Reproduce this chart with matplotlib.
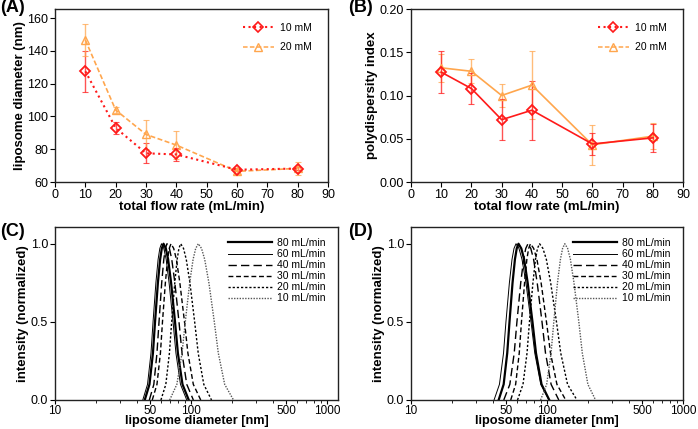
import matplotlib
matplotlib.use("Agg")
import matplotlib.pyplot as plt
from matplotlib.lines import Line2D
from matplotlib.ticker import FixedLocator, NullFormatter

plt.rcParams['font.family'] = ['Liberation Sans', 'DejaVu Sans']

# ---------------- data ----------------
flow = [10, 20, 30, 40, 60, 80]

size_10mM = [127.5, 93.0, 77.5, 76.8, 67.5, 68.2]
size_10mM_err = [12.5, 3.5, 6.0, 4.0, 1.0, 1.0]
size_20mM = [146.6, 103.9, 89.0, 82.5, 66.5, 68.3]
size_20mM_err = [10.0, 2.0, 8.7, 8.5, 1.5, 4.0]

pdi_10mM = [0.127, 0.108, 0.072, 0.083, 0.044, 0.051]
pdi_10mM_err = [0.024, 0.018, 0.024, 0.034, 0.013, 0.016]
pdi_20mM = [0.132, 0.128, 0.100, 0.112, 0.043, 0.053]
pdi_20mM_err = [0.016, 0.014, 0.013, 0.039, 0.023, 0.015]

dist_labels = ['80 mL/min', '60 mL/min', '40 mL/min', '30 mL/min', '20 mL/min', '10 mL/min']
dist_levels = [0, 0.1, 0.3, 0.5, 0.75, 0.9, 0.97, 1.0, 0.97, 0.9, 0.75, 0.5, 0.3, 0.1, 0]

# panel C (10 mM) diameters (nm) at dist_levels
c_80 = [45.7, 49.5, 52.5, 54.4, 57.1, 59.3, 61.0, 62.8, 65.3, 67.9, 71.4, 76.3, 80.1, 86.6, 96.3]
c_60 = [44.2, 47.9, 50.8, 52.6, 55.2, 57.3, 59.0, 60.7, 63.1, 65.7, 69.0, 73.8, 77.5, 83.7, 93.1]
c_40 = [49.4, 53.3, 56.2, 58.2, 60.9, 63.1, 64.8, 66.6, 69.4, 72.2, 76.1, 81.6, 85.9, 93.1, 104.1]
c_30 = [51.9, 56.2, 59.6, 61.7, 64.8, 67.3, 69.2, 71.3, 74.6, 78.1, 82.8, 89.6, 94.9, 104.0, 117.9]
c_20 = [60.1, 65.3, 69.4, 72.1, 76.0, 79.1, 81.5, 84.0, 88.1, 92.3, 98.2, 106.4, 113.0, 124.2, 141.5]
c_10 = [69.7, 78.7, 85.9, 90.8, 97.8, 103.6, 108.3, 113.2, 119.5, 126.1, 135.4, 148.4, 158.8, 176.9, 205.4]

# panel D (20 mM) diameters (nm) at dist_levels
d_80 = [44.1, 48.0, 51.0, 53.0, 55.8, 58.1, 59.9, 61.7, 64.7, 67.9, 72.1, 78.2, 83.0, 91.2, 104.0]
d_60 = [40.8, 44.7, 47.9, 49.9, 52.9, 55.3, 57.2, 59.2, 62.2, 65.5, 70.0, 76.3, 81.3, 90.0, 103.4]
d_40 = [48.1, 53.3, 57.4, 60.1, 64.1, 67.3, 69.8, 72.5, 76.0, 79.7, 84.7, 91.9, 97.5, 107.2, 122.1]
d_30 = [54.1, 58.8, 62.5, 64.9, 68.4, 71.1, 73.3, 75.6, 79.8, 84.3, 90.5, 99.1, 106.1, 118.3, 137.3]
d_20 = [60.7, 66.6, 71.3, 74.3, 78.8, 82.3, 85.1, 88.1, 93.3, 98.9, 106.4, 117.4, 126.2, 141.6, 166.0]
d_10 = [89.7, 99.4, 107.1, 112.2, 119.4, 125.5, 130.2, 135.2, 141.8, 148.6, 157.9, 171.4, 181.8, 199.8, 227.5]

xticks_flow = [0, 10, 20, 30, 40, 50, 60, 70, 80, 90]
yticks_size = [60, 80, 100, 120, 140, 160]
yticks_pdi = [0.00, 0.05, 0.10, 0.15, 0.20]
xticks_diam = [10, 50, 100, 500, 1000]
yticks_int = [0.0, 0.5, 1.0]

# ---------------- style ----------------
RED = '#ff1a1a'
ORANGE = '#ffa64d'
W, H = 698, 429
fig = plt.figure(figsize=(W / 100, H / 100), dpi=100)

def ax_at(l, t, r, b):
    return fig.add_axes([l / W, 1 - b / H, (r - l) / W, (b - t) / H])

axA = ax_at(55, 9, 328, 182)
axB = ax_at(411, 9, 683, 182)
axC = ax_at(55, 227, 338, 400)
axD = ax_at(411, 227, 683, 400)

TICK_FS = 9
LAB_FS = 9.5
for ax in (axA, axB, axC, axD):
    ax.tick_params(direction='out', length=3.5, width=0.8, labelsize=TICK_FS, pad=1.5)
    for s in ax.spines.values():
        s.set_linewidth(1.0)
        s.set_color('#222222')

# ---- panel A ----
for y, e, col in [(size_10mM, size_10mM_err, RED), (size_20mM, size_20mM_err, ORANGE)]:
    axA.errorbar(flow, y, yerr=e, fmt='none', ecolor=col, elinewidth=1.0,
                 capsize=2.5, capthick=0.8, alpha=0.75)
axA.plot(flow, size_20mM, color=ORANGE, ls='--', lw=1.2, marker='^', ms=6,
         mfc='none', mec=ORANGE, mew=1.0, dashes=(3, 1.5))
axA.plot(flow, size_10mM, color=RED, ls=':', lw=1.5, marker='D', ms=5.5,
         mfc='none', mec=RED, mew=1.3)
axA.set_xlim(0, 90)
axA.set_ylim(60, 165.5)
axA.set_xticks(xticks_flow)
axA.set_yticks(yticks_size)
axA.set_xlabel('total flow rate (mL/min)', fontsize=LAB_FS, fontweight='bold', labelpad=0)
axA.set_ylabel('liposome diameter (nm)', fontsize=LAB_FS, fontweight='bold', labelpad=1)

leg_handles = [
    Line2D([], [], color=RED, ls=':', lw=1.5, marker='D', ms=5, mfc='none', mec=RED, mew=1.2),
    Line2D([], [], color=ORANGE, ls='--', lw=1.1, marker='^', ms=5.5, mfc='none', mec=ORANGE,
           mew=1.0, dashes=(3, 1.5)),
]
for ax in (axA, axB):
    ax.legend(leg_handles, ['10 mM', '20 mM'], loc='upper right', frameon=False,
              fontsize=7.5, handlelength=3.0, handletextpad=0.6, labelspacing=0.9,
              borderaxespad=0.6, bbox_to_anchor=(0.98, 0.98))

# ---- panel B ----
axB.errorbar(flow, pdi_20mM, yerr=pdi_20mM_err, fmt='none', ecolor=ORANGE, elinewidth=1.0,
             capsize=2.5, capthick=0.8, alpha=0.75)
axB.errorbar(flow, pdi_10mM, yerr=pdi_10mM_err, fmt='none', ecolor=RED, elinewidth=1.0,
             capsize=2.5, capthick=0.8, alpha=0.75)
axB.plot(flow, pdi_20mM, color=ORANGE, ls='-', lw=1.2, marker='^', ms=6,
         mfc='none', mec=ORANGE, mew=1.0)
axB.plot(flow, pdi_10mM, color=RED, ls='-', lw=1.2, marker='D', ms=5.5,
         mfc='none', mec=RED, mew=1.3)
axB.set_xlim(0, 90)
axB.set_ylim(0, 0.20)
axB.set_xticks(xticks_flow)
axB.set_yticks(yticks_pdi)
axB.set_yticklabels([f'{v:.2f}' for v in yticks_pdi])
axB.set_xlabel('total flow rate (mL/min)', fontsize=LAB_FS, fontweight='bold', labelpad=0)
axB.set_ylabel('polydispersity index', fontsize=LAB_FS, fontweight='bold', labelpad=1)

# ---- panels C and D ----
styles = [
    dict(color='black', lw=1.6, ls='-'),
    dict(color='black', lw=0.7, ls='-'),
    dict(color='black', lw=1.0, ls=(0, (6, 3))),
    dict(color='black', lw=1.0, ls=(0, (3.5, 2))),
    dict(color='black', lw=1.0, ls=(0, (1.6, 1.4))),
    dict(color='#555555', lw=1.0, ls=(0, (1, 1))),
]
for ax, series, xmax in [(axC, [c_80, c_60, c_40, c_30, c_20, c_10], 1205),
                         (axD, [d_80, d_60, d_40, d_30, d_20, d_10], 1000)]:
    for s, st, lab in zip(series, styles, dist_labels):
        ax.plot(s, dist_levels, label=lab, **st)
    ax.set_xscale('log')
    ax.set_xlim(10, xmax)
    ax.set_ylim(0, 1.107)
    ax.xaxis.set_major_locator(FixedLocator(xticks_diam))
    ax.set_xticklabels([str(v) for v in xticks_diam])
    ax.xaxis.set_minor_locator(FixedLocator([20, 30, 40, 60, 70, 80, 90, 200, 300, 400, 600, 700, 800, 900]))
    ax.xaxis.set_minor_formatter(NullFormatter())
    ax.tick_params(which='minor', direction='out', length=2, width=0.6)
    ax.tick_params(axis='x', which='major', length=3, pad=0.5, labelsize=8.5)
    ax.set_yticks(yticks_int)
    ax.set_yticklabels([f'{v:.1f}' for v in yticks_int])
    ax.set_xlabel('liposome diameter [nm]', fontsize=9.2, fontweight='bold', labelpad=-1)
    ax.set_ylabel('intensity (normalized)', fontsize=LAB_FS, fontweight='bold', labelpad=1)
    ax.legend(loc='upper right', frameon=False, fontsize=7.5, handlelength=4.2,
              handletextpad=0.5, labelspacing=0.1, borderaxespad=0.5,
              bbox_to_anchor=(0.99, 0.99))

# panel letters
for txt, x, y in [('(A)', 0, -1), ('(B)', 348, -1), ('(C)', 0, 223), ('(D)', 348, 223)]:
    fig.text(x / W, 1 - y / H, txt, fontsize=13, fontweight='bold', va='top', ha='left')

fig.savefig('out.png', dpi=100)
